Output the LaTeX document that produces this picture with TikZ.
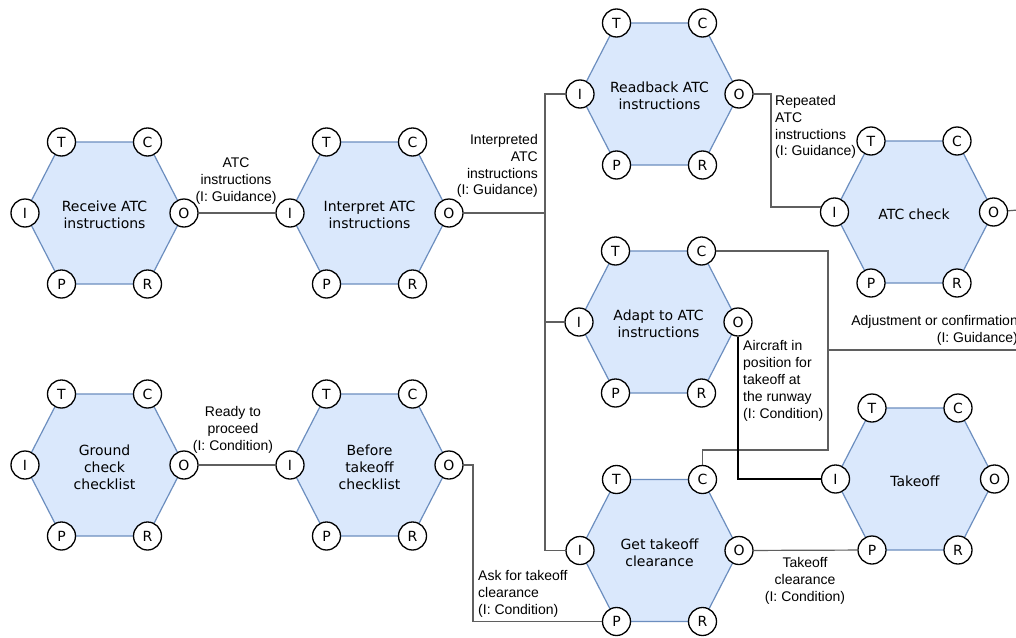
\documentclass[tikz,border=0pt]{standalone}
\usepackage{fontspec}
\newfontfamily\hexfont{DejaVu Sans}
\newfontfamily\lblfont{Liberation Sans}
\usetikzlibrary{calc}
\definecolor{hexfill}{HTML}{DAE8FC}
\definecolor{hexedge}{HTML}{6C8EBF}
\definecolor{wire}{HTML}{5F5F5F}
\tikzset{
  hexbody/.style={fill=hexfill, draw=hexedge, line width=1.2pt, line join=miter},
  port/.style={circle, draw=black, fill=white, minimum size=28pt, inner sep=0pt, line width=1.3pt,
    font=\hexfont\fontsize{14pt}{16.8pt}\selectfont},
  hexlabel/.style={align=center, inner sep=0pt, font=\hexfont\fontsize{14pt}{16.8pt}\selectfont},
  conn/.style={draw=wire, line width=1.2pt},
  connk/.style={draw=black, line width=1.2pt},
  elabel/.style={inner sep=0pt, font=\lblfont\fontsize{14pt}{16.9pt}\selectfont},
}
\newcommand{\tcprohex}[4]{%
  \coordinate (#1) at (#2,#3);
  \path[hexbody] ($(#1)+(-43,-71)$) -- ($(#1)+(43,-71)$) -- ($(#1)+(79.5,0)$) -- ($(#1)+(43,71)$) -- ($(#1)+(-43,71)$) -- ($(#1)+(-79.5,0)$) -- cycle;
  \node[hexlabel] (#1L) at ($(#1)+(0,2)$) {#4};
  \node[port] (#1T) at ($(#1)+(-43,-71)$) {T};
  \node[port] (#1C) at ($(#1)+(43,-71)$) {C};
  \node[port] (#1O) at ($(#1)+(79.5,0)$) {O};
  \node[port] (#1R) at ($(#1)+(43,71)$) {R};
  \node[port] (#1P) at ($(#1)+(-43,71)$) {P};
  \node[port] (#1I) at ($(#1)+(-79.5,0)$) {I};
}
\begin{document}
\begin{tikzpicture}[x=1pt, y=-1pt]
\useasboundingbox (0,0) rectangle (1016,637);
\clip (0,0) rectangle (1016,637);
\fill[white] (0,0) rectangle (1016,637);

% processes
\tcprohex{hA}{104.5}{213}{Receive ATC\\instructions}
\tcprohex{hB}{369.5}{213}{Interpret ATC\\instructions}
\tcprohex{hC}{659.5}{94}{Readback ATC\\instructions}
\tcprohex{hD}{914}{212}{ATC check}
\tcprohex{hE}{658.5}{322}{Adapt to ATC\\instructions}
\tcprohex{hF}{659.5}{550.5}{Get takeoff\\clearance}
\tcprohex{hG}{915}{479}{Takeoff}
\tcprohex{hH}{104.5}{465}{Ground\\check\\checklist}
\tcprohex{hJ}{369.5}{465}{Before\\takeoff\\checklist}

% helper coordinates
\coordinate (trunk) at (545,0);
\coordinate (j1) at (771,207);
\coordinate (edgeA) at (1030,209);
\coordinate (edgeB) at (1030,350);
\coordinate (k) at (828,450);
\coordinate (bx) at (473,0);

% connectors
\draw[conn] (hAO) -- (hBI);
\draw[conn] (hBO) -- (trunk |- hBO);
\draw[conn] (hCI) -| (trunk |- hFI) -- (hFI);
\draw[conn] (trunk |- hEI) -- (hEI);
\draw[conn] (hCO) -| (j1) -- ($(hDI.west |- j1)+(0.8,0)$);
\draw[conn] (hDO) -- (edgeA);
\draw[conn] (edgeB) -- (k |- edgeB);
\draw[conn] (hEC) -| (k) -| (hFC);
\draw[connk] (hEO) |- (hGI);
\draw[conn] (hFO) -- (hGP);
\draw[conn] (hHO) -- (hJI);
\draw[conn] (hJO) -| (bx |- hFP) -- (hFP);

% labels
\node[elabel, align=center] (lA) at (236,181) {ATC\\instructions\\(I: Guidance)};
\node[elabel, align=right, anchor=east] (lB) at (538,166) {Interpreted\\ATC\\instructions\\(I: Guidance)};
\node[elabel, align=left, anchor=west] (lC) at (775,127) {Repeated\\ATC\\instructions\\(I: Guidance)};
\node[elabel, align=right, anchor=east] (lD) at (1018,330) {Adjustment or confirmation\\(I: Guidance)};
\node[elabel, align=left, anchor=west] (lE) at (743,381) {Aircraft in\\position for\\takeoff at\\the runway\\(I: Condition)};
\node[elabel, align=center] (lF) at (233,430) {Ready to\\proceed\\(I: Condition)};
\node[elabel, align=left, anchor=west] (lG) at (478,594) {Ask for takeoff\\clearance\\(I: Condition)};
\node[elabel, align=center] (lH) at (805,581) {Takeoff\\clearance\\(I: Condition)};
\end{tikzpicture}
\end{document}
